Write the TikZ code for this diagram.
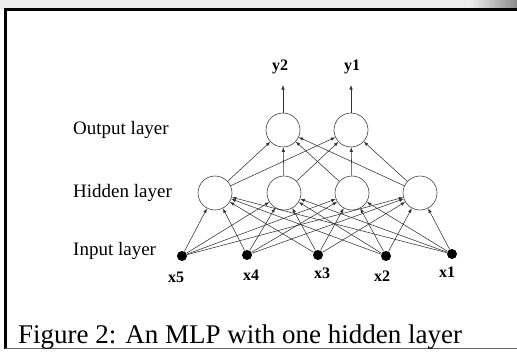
\documentclass[tikz,border=0pt]{standalone}
\usepackage{fontspec}
\setmainfont{Liberation Serif}
\usetikzlibrary{arrows.meta}
\begin{document}
\begin{tikzpicture}[x=1pt,y=-1pt,
  neuron/.style={circle,draw=black!75,line width=0.6pt,minimum size=34pt,inner sep=0pt},
  inp/.style={circle,fill=black,minimum size=10pt,inner sep=0pt},
  conn/.style={draw=black!80,line width=0.55pt,-{Latex[length=4.5pt,width=3.4pt]}},
  lay/.style={font=\fontsize{19}{21}\selectfont,anchor=west,inner sep=0pt},
  vlab/.style={font=\fontsize{16}{18}\selectfont\bfseries,inner sep=0pt}]
\useasboundingbox (0,0) rectangle (517,359);
% page background strip and curl
\fill[black!7] (0,0) rectangle (517,9);
\shade[left color=black!7,right color=black!45] (470,0) rectangle (517,9);
\fill[white] (5,9) rectangle (517,349);
\draw[black,line width=2.4pt] (5.5,349) -- (5.5,9.5) -- (517,9.5);
\draw[black!60,line width=1pt] (5,348.5) -- (517,348.5);
% layer labels
\node[lay] (lo) at (73,130) {Output layer};
\node[lay] (lh) at (73,193) {Hidden layer};
\node[lay] (li) at (73,251) {Input layer};
% neurons
\node[neuron] (o2) at (283,130) {};
\node[neuron] (o1) at (351,130) {};
\node[neuron] (h1) at (215,193) {};
\node[neuron] (h2) at (284,193) {};
\node[neuron] (h3) at (352,193) {};
\node[neuron] (h4) at (420,193) {};
\node[inp] (x5) at (182,256) {};
\node[inp] (x4) at (247,255) {};
\node[inp] (x3) at (318,255) {};
\node[inp] (x2) at (386,256) {};
\node[inp] (x1) at (452,254) {};
% labels
\node[vlab] (lx5) at (176,277) {x5};
\node[vlab] (lx4) at (251,275) {x4};
\node[vlab] (lx3) at (322,273) {x3};
\node[vlab] (lx2) at (382,276) {x2};
\node[vlab] (lx1) at (447,272) {x1};
\node[vlab] (ly2) at (280,67) {y2};
\node[vlab] (ly1) at (352,67) {y1};
\coordinate (t2) at (283,85);
\coordinate (t1) at (351,85);
% connections
\foreach \i in {x1,x2,x3,x4,x5}{
  \foreach \h in {h1,h2,h3,h4}{
    \draw[conn] (\i) -- (\h);
  }
}
\foreach \h in {h1,h2,h3,h4}{
  \draw[conn] (\h) -- (o1);
  \draw[conn] (\h) -- (o2);
}
\draw[conn] (o2) -- (t2);
\draw[conn] (o1) -- (t1);
% caption
\node[font=\fontsize{27}{30}\selectfont,anchor=west,inner sep=0pt] (cap) at (18,337) {Figure 2: An MLP with one hidden layer};
\end{tikzpicture}
\end{document}
